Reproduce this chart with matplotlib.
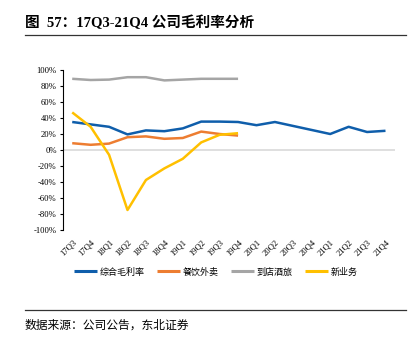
import matplotlib
matplotlib.use("Agg")
import matplotlib.pyplot as plt
from matplotlib.lines import Line2D

plt.rcParams['font.family'] = ['Liberation Serif', 'Noto Sans CJK SC', 'DejaVu Sans']

quarters = ["17Q3", "17Q4", "18Q1", "18Q2", "18Q3", "18Q4", "19Q1", "19Q2", "19Q3", "19Q4",
            "20Q1", "20Q2", "20Q3", "20Q4", "21Q1", "21Q2", "21Q3", "21Q4"]
total_margin = [35, 32, 29, 19.5, 24.5, 23.5, 27, 35.5, 35.5, 35,
                31, 35, 30, 25, 20, 29, 22.5, 24]
food_delivery = [8.5, 6.5, 8, 16, 17, 14, 15, 23, 20, 18]
instore_hotel = [89, 87.5, 88, 91, 91, 87, 88, 89, 89, 89]
new_business = [47, 29, -6, -75, -37.5, -23, -11, 9.5, 19, 21]

series_names = ["综合毛利率", "餐饮外卖", "到店酒旅", "新业务"]
colors = ["#0F5EAB", "#ED7D31", "#A5A5A5", "#FFC000"]
yticks = list(range(-100, 101, 20))

W, H = 415, 354
fig = plt.figure(figsize=(W / 100, H / 100), dpi=100)

# title and rules
fig.text(25 / W, 1 - 23 / H, "图  57：17Q3-21Q4 公司毛利率分析", fontsize=10.5, fontweight='bold',
         ha='left', va='center', family=['Liberation Serif', 'Noto Sans CJK SC'])
fig.add_artist(Line2D([25 / W, 406 / W], [1 - 34.5 / H, 1 - 34.5 / H], color='#333333', lw=0.9))
fig.add_artist(Line2D([25 / W, 406 / W], [1 - 310 / H, 1 - 310 / H], color='#333333', lw=0.9))
fig.text(25 / W, 1 - 325 / H, "数据来源：公司公告，东北证券", fontsize=8.5, ha='left', va='center',
         family=['Noto Sans CJK SC'])

ax = fig.add_axes([63 / W, 1 - 230 / H, (394.7 - 63) / W, 160 / H])
x = list(range(len(quarters)))
series = [total_margin, food_delivery, instore_hotel, new_business]
ax.axhline(0, color='#D9D9D9', lw=1.2, zorder=1)
for vals, c, name in zip(series, colors, series_names):
    ax.plot(x[:len(vals)], vals, color=c, lw=1.8, label=name, zorder=3, solid_capstyle='butt')

ax.set_xlim(-0.5, len(quarters) - 0.5)
ax.set_ylim(-100, 100)
ax.set_yticks(yticks)
ax.set_yticklabels([f"{v}%" for v in yticks], fontsize=6.2)
ax.set_xticks(x)
ax.set_xticklabels(quarters, rotation=45, ha='right', rotation_mode='anchor', fontsize=6.2)
ax.tick_params(axis='x', length=0, pad=6)
ax.tick_params(axis='y', length=2.5, width=0.8, pad=2, direction='out')
for s in ['top', 'right', 'bottom']:
    ax.spines[s].set_visible(False)
ax.spines['left'].set_linewidth(0.8)

handles, labels = ax.get_legend_handles_labels()
leg = fig.legend(handles, labels, loc='center', bbox_to_anchor=(216 / W, 1 - 272 / H), ncol=4,
                 frameon=False, prop={'family': 'Noto Sans CJK SC', 'size': 6.5},
                 handlelength=2.5, handletextpad=0.3, columnspacing=1.4)
for l in leg.get_lines():
    l.set_linewidth(2.2)

fig.savefig("out.png", dpi=100)
